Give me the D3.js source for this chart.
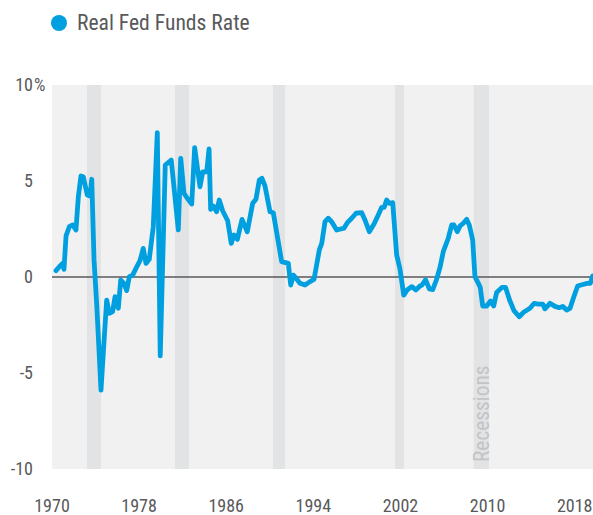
<!DOCTYPE html>
<html lang="en">
<head>
  <meta charset="UTF-8">
  <title>Real Fed Funds Rate</title>
  <script type="text/javascript" src="https://d3js.org/d3.v7.min.js"></script>
  <style>
    body{
      margin:0;
      background:#fff;
    }
    text{
      font-family:"Roboto Condensed","Liberation Sans Narrow","DejaVu Sans Condensed",Roboto,sans-serif;
      font-stretch:condensed;
    }
    .tick-label{
      fill:#58595b;
      font-size:18px;
    }
  </style>
</head>
<body>
  <svg></svg>
  <script type="text/javascript">

  var W = 593,
    H = 515;

  // quarter-ish dates (decimal years) and real rate, %
  var dates = [1970.37, 1970.73, 1970.98, 1971.10, 1971.29, 1971.59, 1971.90, 1972.20, 1972.42, 1972.66,
    1972.87, 1973.24, 1973.49, 1973.65, 1973.86, 1974.10, 1974.50, 1974.71, 1975.02, 1975.26,
    1975.57, 1975.79, 1976.09, 1976.31, 1976.61, 1976.86, 1977.10, 1977.41, 1977.71, 1978.08,
    1978.38, 1978.63, 1978.93, 1979.30, 1979.67, 1979.94, 1980.40, 1980.95, 1981.60, 1981.82,
    1982.12, 1982.42, 1982.83, 1983.10, 1983.59, 1983.84, 1984.21, 1984.42, 1984.57, 1984.81,
    1985.12, 1985.36, 1985.67, 1986.13, 1986.46, 1986.71, 1987.02, 1987.45, 1987.93, 1988.43,
    1988.73, 1989.04, 1989.28, 1989.56, 1990.02, 1990.32, 1991.09, 1991.70, 1991.92, 1992.16,
    1992.41, 1992.77, 1993.23, 1993.69, 1994.06, 1994.55, 1994.77, 1995.07, 1995.37, 1995.68,
    1996.14, 1996.81, 1997.12, 1997.52, 1997.92, 1998.44, 1998.74, 1999.14, 1999.57, 1999.96,
    2000.28, 2000.51, 2000.73, 2000.97, 2001.29, 2001.65, 2001.96, 2002.30, 2002.64, 2003.05,
    2003.41, 2003.79, 2003.98, 2004.30, 2004.65, 2004.96, 2005.29, 2005.63, 2005.93, 2006.39,
    2006.70, 2006.91, 2007.22, 2007.47, 2007.77, 2008.08, 2008.32, 2008.63, 2008.84, 2009.15,
    2009.33, 2009.55, 2009.92, 2010.27, 2010.56, 2010.83, 2011.32, 2011.65, 2012.02, 2012.42,
    2012.91, 2013.34, 2013.89, 2014.28, 2014.66, 2015.06, 2015.27, 2015.73, 2016.19, 2016.58,
    2016.90, 2017.26, 2017.57, 2017.93, 2018.27, 2018.74, 2019.16, 2019.43, 2019.65];

  var rates = [0.33, 0.57, 0.71, 0.40, 2.14, 2.62, 2.71, 2.45, 4.18, 5.26,
    5.22, 4.27, 4.22, 5.09, 0.89, -1.36, -5.89, -3.96, -1.20, -1.89,
    -1.80, -1.02, -1.63, -0.16, -0.33, -0.71, 0.02, 0.10, 0.45, 0.85,
    1.49, 0.71, 0.92, 2.62, 7.52, -4.11, 5.83, 6.09, 2.45, 6.18,
    4.36, 4.10, 3.80, 6.74, 4.70, 5.48, 5.48, 6.67, 3.52, 3.70,
    3.40, 4.01, 3.45, 2.93, 1.75, 2.19, 1.96, 3.00, 2.36, 3.84,
    4.05, 5.05, 5.14, 4.74, 3.40, 3.35, 0.80, 0.71, -0.42, 0.10,
    -0.07, -0.33, -0.42, -0.24, -0.12, 1.41, 1.75, 2.88, 3.06, 2.88,
    2.45, 2.54, 2.83, 3.06, 3.32, 3.35, 2.97, 2.36, 2.76, 3.23,
    3.63, 3.63, 4.01, 3.84, 3.87, 1.15, 0.40, -0.94, -0.66, -0.50,
    -0.68, -0.47, -0.42, -0.14, -0.62, -0.66, -0.17, 0.50, 1.32, 2.02,
    2.71, 2.71, 2.36, 2.66, 2.80, 3.00, 2.71, 1.93, 0.02, -0.33,
    -0.55, -1.51, -1.51, -1.25, -1.51, -0.81, -0.54, -0.54, -1.20, -1.75,
    -2.07, -1.82, -1.63, -1.37, -1.41, -1.41, -1.66, -1.37, -1.53, -1.60,
    -1.53, -1.72, -1.63, -1.02, -0.47, -0.39, -0.33, -0.33, 0.05];

  var recessions = [[1973.21, 1974.50], [1981.29, 1982.58], [1990.29, 1991.40],
    [2001.50, 2002.32], [2008.72, 2010.13]];

  var xTicks = [1970, 1978, 1986, 1994, 2002, 2010, 2018],
    yTicks = [10, 5, 0, -5, -10];

  var M = {left: 52, right: 593, top: 85, bottom: 469};

  var SVG = d3.select("svg").attr("width", W).attr("height", H);

  var x = d3.scaleLinear().domain([1970, 2019.68]).range([M.left, M.right]),
    y = d3.scaleLinear().domain([-10, 10]).range([M.bottom, M.top]);

  // plot background
  SVG.append("rect")
    .attr("x", M.left).attr("y", M.top)
    .attr("width", M.right - M.left).attr("height", M.bottom - M.top)
    .attr("fill", "#f1f1f1");

  SVG.append("g").selectAll("rect").data(recessions).enter().append("rect")
    .attr("x", d => x(d[0]))
    .attr("y", M.top)
    .attr("width", d => x(d[1]) - x(d[0]))
    .attr("height", M.bottom - M.top)
    .attr("fill", "#e2e3e5");

  var last = recessions[recessions.length - 1];
  SVG.append("text")
    .attr("transform", "translate(" + (x((last[0] + last[1]) / 2) + 7.5) + "," + (M.bottom - 7) + ")rotate(-90)")
    .attr("fill", "#c3c4c6")
    .style("font-size", "21.4px")
    .text("Recessions");

  // zero line
  SVG.append("line")
    .attr("x1", M.left).attr("x2", M.right)
    .attr("y1", y(0)).attr("y2", y(0))
    .attr("stroke", "#58595b")
    .attr("stroke-width", 1.6);

  var points = dates.map((d, i) => [d, rates[i]]);

  SVG.append("path")
    .datum(points)
    .attr("fill", "none")
    .attr("stroke", "#009fe0")
    .attr("stroke-width", 4.8)
    .attr("stroke-linejoin", "round")
    .attr("stroke-linecap", "round")
    .attr("d", d3.line().x(d => x(d[0])).y(d => y(d[1])));

  // y labels
  SVG.append("g").selectAll("text").data(yTicks).enter().append("text")
    .attr("class", "tick-label")
    .attr("x", 33)
    .attr("y", d => y(d))
    .attr("dy", ".35em")
    .attr("text-anchor", "end")
    .text(d => d);
  SVG.append("text")
    .attr("class", "tick-label")
    .attr("x", 34)
    .attr("y", y(yTicks[0]))
    .attr("dy", ".35em")
    .text("%");

  // x labels
  SVG.append("g").selectAll("text").data(xTicks).enter().append("text")
    .attr("class", "tick-label")
    .attr("x", d => x(d))
    .attr("y", 512)
    .attr("text-anchor", "middle")
    .text(d => d);

  // legend
  SVG.append("circle")
    .attr("cx", 59).attr("cy", 23).attr("r", 8)
    .attr("fill", "#009fe0");
  SVG.append("text")
    .attr("x", 77).attr("y", 30)
    .attr("fill", "#58595b")
    .style("font-size", "21.6px")
    .text("Real Fed Funds Rate");

  </script>
</body>
</html>
